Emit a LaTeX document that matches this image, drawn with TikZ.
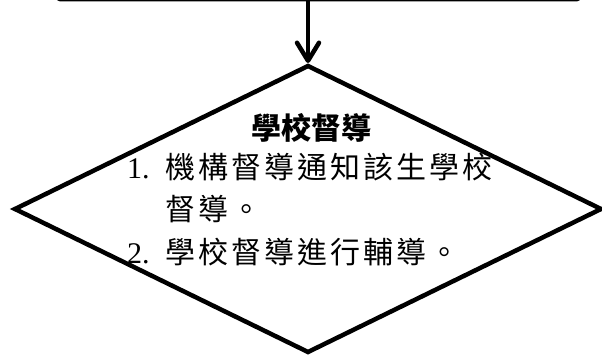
\documentclass[tikz,border=0pt]{standalone}
\usepackage{fontspec}
\setmainfont{Liberation Serif}
\newfontfamily\cjk[LetterSpace=10]{Noto Sans CJK TC}
\newfontfamily\cjkt{Noto Sans CJK TC}
\usetikzlibrary{arrows.meta,shapes.geometric,positioning}
\tikzstyle{Abox}=[draw,rounded corners=3pt,line width=1.2pt,minimum width=523pt,minimum height=60pt,inner sep=0]
\tikzstyle{Adec}=[draw,diamond,line width=4.5pt,minimum width=586pt,minimum height=286pt,inner sep=0,outer sep=0]
\tikzstyle{Ahit}=[line width=4.5pt,-{Straight Barb[length=18pt,width=22pt,round]}]
\tikzstyle{Atitle}=[font=\fontsize{30pt}{36pt}\cjkt\bfseries,inner sep=0]
\tikzstyle{Alist}=[font=\fontsize{30pt}{42.5pt}\selectfont,align=left,inner sep=0]

\begin{document}
\begin{tikzpicture}[x=1pt,y=-1pt]
  \useasboundingbox (0,0) rectangle (602,356);
  \node[Abox,anchor=south] (prev) at (318.5,1.4) {};
  \node[Adec] (school) at (308,209) {};
  \path[Ahit,shorten >=3pt] (school.north |- prev.south) edge (school.north);
  \node[Atitle,anchor=base] (schooltitle) at (311,139) {學校督導};
  \node[Alist,anchor=base west] (schoolsteps) at (127,263)
    {\makebox[38pt][l]{1.}{\cjk 機構督導通知該生學校}\\
     \hspace*{38pt}{\cjk 督導。}\\
     \makebox[38pt][l]{2.}{\cjk 學校督導進行輔導。}};
\end{tikzpicture}
\end{document}
